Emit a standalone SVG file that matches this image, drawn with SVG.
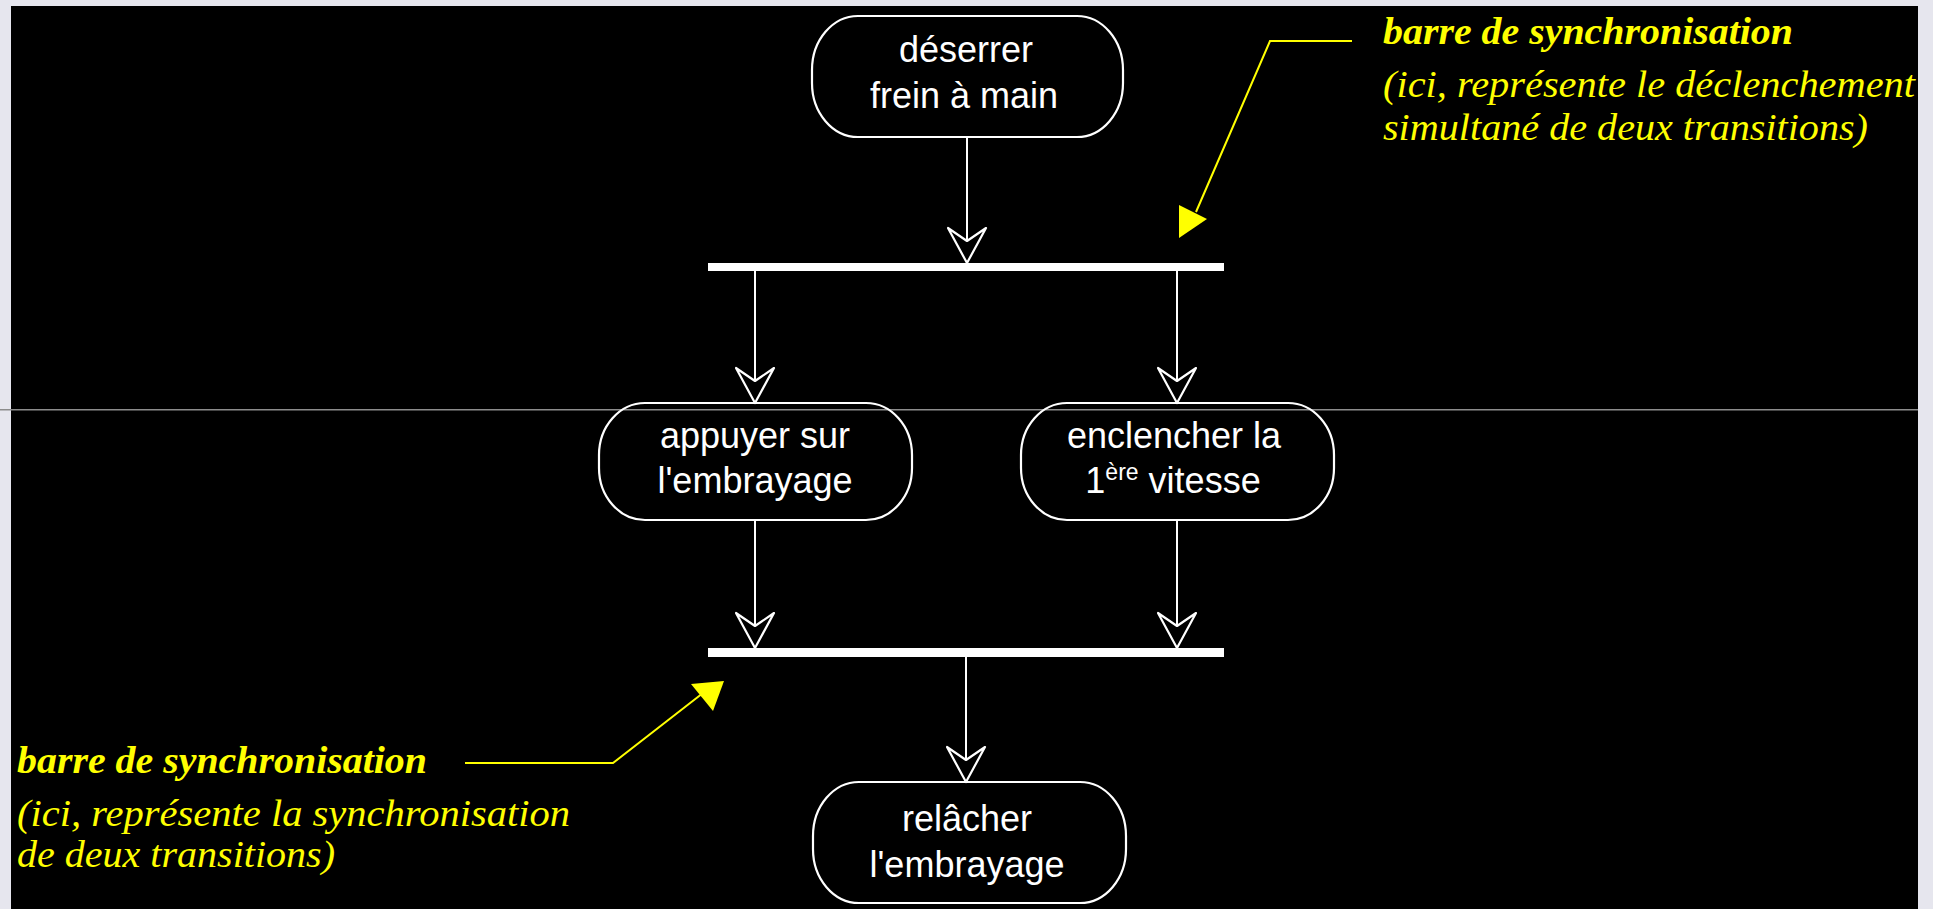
<svg xmlns="http://www.w3.org/2000/svg" width="1933" height="909" viewBox="0 0 1933 909">
<style>
.node{fill:none;stroke:#fff;stroke-width:2.2}
.lbl{font-family:"Liberation Sans",Arial,sans-serif;font-size:36px;fill:#fff;text-anchor:middle}
.sup{font-size:23px}
.edge{stroke:#fff;stroke-width:2;fill:none;marker-end:url(#ah)}
.bar{fill:#fff}
.ann{stroke:#ffff00;stroke-width:2;fill:none}
.annhead{fill:#ffff00}
.t1{font-family:"Liberation Serif","Times New Roman",serif;font-weight:bold;font-style:italic;font-size:38px;fill:#ffff00}
.t2{font-family:"Liberation Serif","Times New Roman",serif;font-style:italic;font-size:38px;fill:#ffff00}
</style>
<defs>
<marker id="ah" markerUnits="userSpaceOnUse" orient="auto" viewBox="-38 -22 41 44" markerWidth="41" markerHeight="44" refX="0" refY="0">
<path d="M0,0 L-35,-19 L-22,0 L-35,19 Z" fill="#000" stroke="#fff" stroke-width="2.2" stroke-linejoin="round"/>
</marker>
</defs>
<rect x="0" y="0" width="1933" height="909" fill="#e6e6ee"/>
<rect x="11" y="6" width="1907" height="903" fill="#000"/>
<rect x="0" y="409" width="1918" height="1.5" fill="#8c8c8c"/>

<g id="connectors">
<line class="edge" x1="967" y1="137" x2="967" y2="263"/>
<line class="edge" x1="755" y1="271" x2="755" y2="403"/>
<line class="edge" x1="1177" y1="271" x2="1177" y2="403"/>
<line class="edge" x1="755" y1="520" x2="755" y2="648"/>
<line class="edge" x1="1177" y1="520" x2="1177" y2="648"/>
<line class="edge" x1="966" y1="657" x2="966" y2="782"/>
</g>

<g id="bar-fork"><rect class="bar" x="708" y="263" width="516" height="8"/></g>
<g id="bar-join"><rect class="bar" x="708" y="648" width="516" height="9"/></g>

<g id="node-deserrer">
<rect class="node" x="812" y="16" width="311" height="121" rx="46" ry="54"/>
<text class="lbl" x="966" y="62">déserrer</text>
<text class="lbl" x="964" y="108">frein à main</text>
</g>
<g id="node-appuyer">
<rect class="node" x="599" y="403" width="313" height="117" rx="46" ry="52"/>
<text class="lbl" x="755" y="448">appuyer sur</text>
<text class="lbl" x="755" y="493">l'embrayage</text>
</g>
<g id="node-enclencher">
<rect class="node" x="1021" y="403" width="313" height="117" rx="46" ry="52"/>
<text class="lbl" x="1174" y="448">enclencher la</text>
<text class="lbl" x="1173" y="493">1<tspan class="sup" dy="-13">ère</tspan><tspan dy="13"> vitesse</tspan></text>
</g>
<g id="node-relacher">
<rect class="node" x="813" y="782" width="313" height="121" rx="46" ry="54"/>
<text class="lbl" x="967" y="831">relâcher</text>
<text class="lbl" x="967" y="877">l'embrayage</text>
</g>

<g id="note-top">
<polyline class="ann" points="1352,41 1270,41 1196,212"/>
<polygon class="annhead" points="1179,205 1207,219 1179,238"/>
<text class="t1" x="1383" y="44" textLength="410" lengthAdjust="spacingAndGlyphs">barre de synchronisation</text>
<text class="t2" x="1383" y="97" textLength="532" lengthAdjust="spacingAndGlyphs">(ici, représente le déclenchement</text>
<text class="t2" x="1383" y="140" textLength="485" lengthAdjust="spacingAndGlyphs">simultané de deux transitions)</text>
</g>
<g id="note-bottom">
<polyline class="ann" points="465,763 613,763 703,693"/>
<polygon class="annhead" points="691,684 724,681 713,711"/>
<text class="t1" x="17" y="773" textLength="410" lengthAdjust="spacingAndGlyphs">barre de synchronisation</text>
<text class="t2" x="17" y="826" textLength="553" lengthAdjust="spacingAndGlyphs">(ici, représente la synchronisation</text>
<text class="t2" x="17" y="867" textLength="318" lengthAdjust="spacingAndGlyphs">de deux transitions)</text>
</g>
</svg>
